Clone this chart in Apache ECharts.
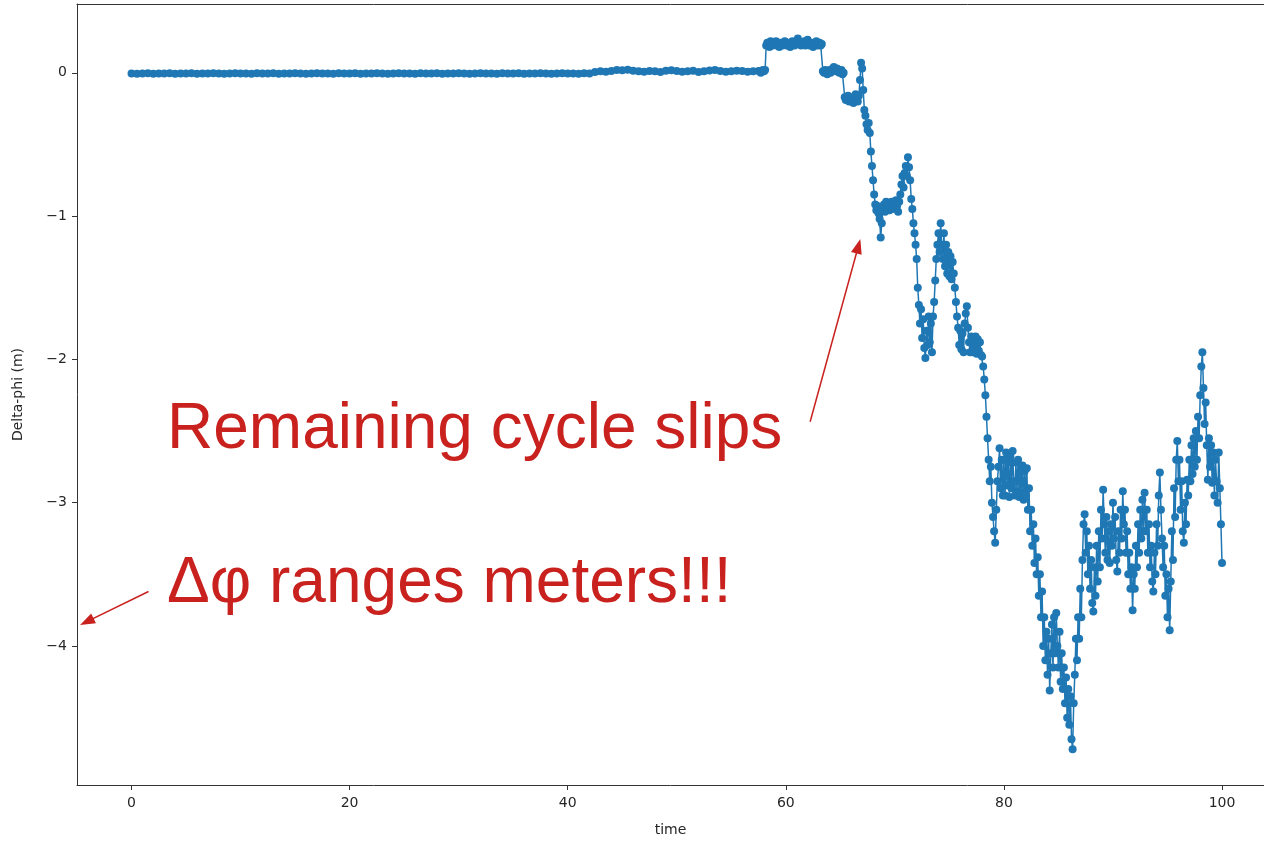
<!DOCTYPE html>
<html>
<head>
<meta charset="utf-8">
<title>Delta-phi over time</title>
<script src="https://cdn.jsdelivr.net/npm/echarts@6/dist/echarts.min.js"></script>
<style>
  html, body { margin: 0; padding: 0; background: #ffffff; }
  #chart { width: 1264px; height: 842px; }
</style>
</head>
<body>
<div id="chart"></div>
<script>
// Quiet stretch before the slips: samples every 0.5 s from t = 0
const flatStart = 0;
const flatStep = 0.5;
const flatDelta = [
  -0.005, -0.006, -0.005, -0.004, -0.006, -0.005, -0.005, -0.004, -0.006, -0.005,
  -0.005, -0.004, -0.006, -0.005, -0.005, -0.004, -0.005, -0.006, -0.005, -0.004,
  -0.005, -0.005, -0.006, -0.004, -0.005, -0.005, -0.004, -0.006, -0.005, -0.005,
  -0.004, -0.005, -0.006, -0.005, -0.004, -0.005, -0.005, -0.006, -0.004, -0.005,
  -0.005, -0.004, -0.006, -0.005, -0.005, -0.004, -0.005, -0.006, -0.005, -0.004,
  -0.005, -0.005, -0.006, -0.004, -0.005, -0.005, -0.004, -0.006, -0.005, -0.005,
  -0.004, -0.005, -0.006, -0.005, -0.004, -0.005, -0.005, -0.006, -0.004, -0.005,
  -0.005, -0.004, -0.006, -0.005, -0.005, -0.004, -0.005, -0.006, -0.005, -0.004,
  -0.005, -0.005, -0.006, -0.004, -0.005, 0.005, 0.010, 0.008, 0.012, 0.020,
  0.018, 0.022, 0.015, 0.010, 0.008, 0.012, 0.010, 0.006, 0.015, 0.018,
  0.012, 0.008, 0.010, 0.014, 0.006, 0.010, 0.016, 0.020, 0.012, 0.008,
  0.010, 0.014, 0.012, 0.008, 0.010, 0.012
];

// Cycle-slip stretch: samples every 0.1 s from t = 57.6, one row per second
const slipStart = 57.6;
const slipStep = 0.1;
const slipDelta = [
   0.01,  0.00,  0.01,  0.02,
   0.01,  0.02,  0.19,  0.21,  0.20,  0.18,  0.22,  0.20,  0.19,  0.21,  // 58
   0.20,  0.22,  0.19,  0.20,  0.18,  0.21,  0.20,  0.19,  0.21,  0.22,  // 59
   0.20,  0.19,  0.20,  0.21,  0.18,  0.20,  0.22,  0.21,  0.19,  0.20,  // 60
   0.21,  0.24,  0.21,  0.20,  0.19,  0.21,  0.20,  0.22,  0.19,  0.20,  // 61
   0.23,  0.20,  0.19,  0.21,  0.20,  0.18,  0.21,  0.20,  0.22,  0.19,  // 62
   0.20,  0.21,  0.19,  0.20,  0.01,  0.00,  0.02,  0.01, -0.01,  0.01,  // 63
   0.02,  0.00,  0.01,  0.03,  0.04,  0.02,  0.01,  0.03,  0.02,  0.00,  // 64
   0.01,  0.02, -0.01,  0.00, -0.17, -0.19, -0.18, -0.16, -0.20, -0.18,  // 65
  -0.19, -0.17, -0.21, -0.18, -0.15, -0.19, -0.20, -0.16, -0.05,  0.07,  // 66
   0.03, -0.12, -0.26, -0.30, -0.36, -0.40, -0.35, -0.42, -0.55, -0.65,  // 67
  -0.75, -0.85, -0.92, -0.96, -0.93, -0.98, -1.02, -1.15, -1.05, -0.95,  // 68
  -0.92, -0.97, -0.90, -0.94, -0.92, -0.96, -0.93, -0.90, -0.95, -0.92,  // 69
  -0.94, -0.89, -0.93, -0.97, -0.90, -0.85, -0.78, -0.72, -0.80, -0.70,  // 70
  -0.65, -0.72, -0.59, -0.66, -0.75, -0.88, -0.95, -1.05, -1.12, -1.20,  // 71
  -1.30, -1.50, -1.62, -1.75, -1.65, -1.85, -1.72, -1.92, -1.99, -1.80,  // 72
  -1.90, -1.70, -1.88, -1.75, -1.95, -1.70, -1.60, -1.45, -1.30, -1.20,  // 73
  -1.12, -1.25, -1.05, -1.20, -1.30, -1.12, -1.35, -1.20, -1.40, -1.25,  // 74
  -1.42, -1.28, -1.44, -1.32, -1.40, -1.50, -1.60, -1.70, -1.78, -1.90,  // 75
  -1.80, -1.93, -1.82, -1.95, -1.75, -1.68, -1.63, -1.78, -1.88, -1.95,  // 76
  -1.84, -1.95, -1.86, -1.92, -1.84, -1.96, -1.86, -1.94, -1.88, -1.97,  // 77
  -1.98, -2.05, -2.14, -2.25, -2.40, -2.55, -2.70, -2.85, -2.75, -3.00,  // 78
  -3.10, -3.20, -3.28, -3.05, -2.85, -2.75, -2.62, -2.90, -2.70, -2.95,  // 79
  -2.70, -2.95, -2.65, -2.88, -2.72, -2.96, -2.68, -2.90, -2.64, -2.85,  // 80
  -2.95, -2.72, -2.92, -2.70, -2.96, -2.78, -2.93, -2.74, -2.98, -2.78,  // 81
  -2.95, -2.76, -3.05, -2.90, -3.20, -3.05, -3.30, -3.15, -3.42, -3.25,  // 82
  -3.50, -3.38, -3.65, -3.50, -3.80, -3.62, -4.00, -3.80, -4.10, -3.90,  // 83
  -4.20, -3.95, -4.31, -4.05, -3.85, -4.15, -3.80, -4.05, -3.77, -4.00,  // 84
  -4.15, -3.90, -4.25, -4.05, -4.30, -4.15, -4.40, -4.22, -4.50, -4.30,  // 85
  -4.55, -4.35, -4.65, -4.72, -4.40, -4.20, -3.95, -4.10, -3.80, -3.95,  // 86
  -3.60, -3.80, -3.40, -3.15, -3.08, -3.35, -3.20, -3.50, -3.30, -3.60,  // 87
  -3.40, -3.70, -3.76, -3.45, -3.65, -3.30, -3.55, -3.20, -3.45, -3.05,  // 88
  -3.25, -2.91, -3.15, -3.35, -3.10, -3.40, -3.20, -3.42, -3.15, -3.30,  // 89
  -3.00, -3.25, -3.10, -3.40, -3.48, -3.20, -3.35, -3.05, -3.25, -2.92,  // 90
  -3.15, -3.05, -3.35, -3.20, -3.50, -3.35, -3.60, -3.45, -3.75, -3.50,  // 91
  -3.60, -3.30, -3.45, -3.15, -3.35, -3.05, -3.25, -2.98, -3.20, -2.93,  // 92
  -3.20, -3.05, -3.35, -3.15, -3.45, -3.30, -3.55, -3.62, -3.35, -3.50,  // 93
  -3.15, -3.30, -2.95, -2.79, -3.05, -3.25, -3.45, -3.30, -3.65, -3.50,  // 94
  -3.80, -3.60, -3.89, -3.55, -3.20, -3.40, -2.90, -3.10, -2.70, -2.57,  // 95
  -2.85, -2.70, -3.05, -2.85, -3.20, -3.28, -3.00, -3.15, -2.84, -2.95,  // 96
  -2.70, -2.85, -2.60, -2.80, -2.55, -2.75, -2.50, -2.70, -2.40, -2.55,  // 97
  -2.25, -2.05, -1.95, -2.20, -2.45, -2.30, -2.60, -2.84, -2.55, -2.75,  // 98
  -2.60, -2.86, -2.65, -2.95, -2.70, -2.85, -3.00, -2.65, -2.90, -3.15,  // 99
  -3.42                                                                  // 100
];

const xTicks = [0, 20, 40, 60, 80, 100];
const yTicks = [-4, -3, -2, -1, 0];

const noteColor = '#c9211e';
const lineColor = '#1f77b4';
const spineColor = '#333333';

// (time, delta-phi) pairs for the plotted series
const points = [];
flatDelta.forEach((v, i) => points.push([flatStart + i * flatStep, v]));
slipDelta.forEach((v, i) => points.push([+(slipStart + i * slipStep).toFixed(2), v]));

const chart = echarts.init(document.getElementById('chart'), null, { renderer: 'canvas' });

const tickFont = { fontFamily: 'DejaVu Sans', fontSize: 14, color: '#262626' };

chart.setOption({
  animation: false,
  backgroundColor: '#ffffff',
  grid: { left: 77, top: 4, right: 0, bottom: 56, containLabel: false },
  xAxis: [
    {
      type: 'value',
      min: -5, max: 103.85,
      name: 'time',
      nameLocation: 'middle',
      nameGap: 38,
      nameTextStyle: tickFont,
      axisLine: { show: true, onZero: false, lineStyle: { color: spineColor, width: 1 } },
      axisTick: { show: true, length: 5, customValues: xTicks, lineStyle: { color: spineColor } },
      axisLabel: { show: true, margin: 11, customValues: xTicks, ...tickFont },
      splitLine: { show: false }
    },
    {
      // top spine
      type: 'value', position: 'top',
      min: -5, max: 103.85,
      axisLine: { show: true, onZero: false, lineStyle: { color: spineColor, width: 1 } },
      axisTick: { show: false }, axisLabel: { show: false }, splitLine: { show: false }
    }
  ],
  yAxis: {
    type: 'value',
    min: -4.97, max: 0.48,
    name: 'Delta-phi (m)',
    nameLocation: 'middle',
    nameRotate: 90,
    nameGap: 52,
    nameTextStyle: tickFont,
    axisLine: { show: true, onZero: false, lineStyle: { color: spineColor, width: 1 } },
    axisTick: { show: true, length: 5, customValues: yTicks, lineStyle: { color: spineColor } },
    axisLabel: {
      show: true, margin: 10, customValues: yTicks, ...tickFont,
      formatter: v => String(v).replace('-', '\u2212')
    },
    splitLine: { show: false }
  },
  series: [{
    type: 'line',
    data: points,
    symbol: 'circle',
    symbolSize: 8,
    showSymbol: true,
    color: lineColor,
    itemStyle: { color: lineColor },
    lineStyle: { color: lineColor, width: 1.5 },
    clip: true,
    markLine: {
      silent: true,
      symbol: ['none', 'triangle'],
      symbolSize: [11, 15],
      label: { show: false },
      lineStyle: { color: noteColor, width: 1.5, type: 'solid' },
      itemStyle: { color: noteColor },
      data: [
        [{ coord: [62.23, -2.435] }, { coord: [66.65, -1.21] }],
        [{ coord: [1.56, -3.62] }, { coord: [-4.1, -3.83] }]
      ]
    }
  }],
  graphic: [
    {
      type: 'text', left: 167, top: 398,
      style: { text: 'Remaining cycle slips', fontFamily: 'Liberation Sans', fontSize: 64, fill: noteColor }
    },
    {
      type: 'text', left: 167, top: 552,
      style: { text: '\u0394\u03c6 ranges meters!!!', fontFamily: 'Liberation Sans', fontSize: 64, fill: noteColor }
    }
  ]
});
</script>
</body>
</html>
